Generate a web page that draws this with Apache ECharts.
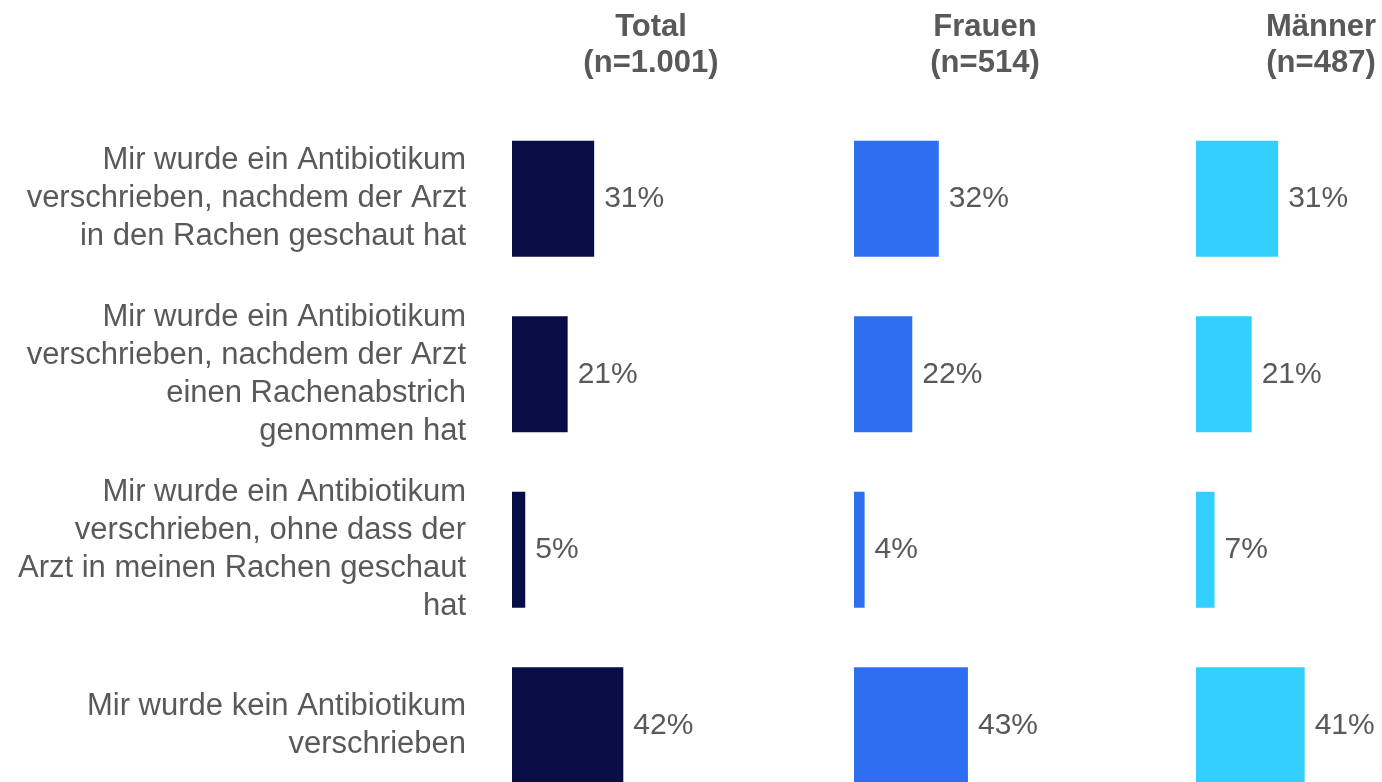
<!DOCTYPE html>
<html><head><meta charset="utf-8">
<script src="https://cdn.jsdelivr.net/npm/echarts@6/dist/echarts.min.js"></script>
<style>html,body{margin:0;padding:0;background:#fff}#c{width:1382px;height:782px}</style>
</head><body><div id="c"></div>
<script>
const categories = [
  "Mir wurde ein Antibiotikum\nverschrieben, nachdem der Arzt\nin den Rachen geschaut hat",
  "Mir wurde ein Antibiotikum\nverschrieben, nachdem der Arzt\neinen Rachenabstrich\ngenommen hat",
  "Mir wurde ein Antibiotikum\nverschrieben, ohne dass der\nArzt in meinen Rachen geschaut\nhat",
  "Mir wurde kein Antibiotikum\nverschrieben"
];
const groupTitles = ["Total\n(n=1.001)", "Frauen\n(n=514)", "Männer\n(n=487)"];
const totalValues = [31, 21, 5, 42];
const frauenValues = [32, 22, 4, 43];
const maennerValues = [31, 21, 7, 41];
const colors = ["#070d45", "#2e6ff2", "#33cfff"];

const font = "'Liberation Sans', Arial, sans-serif";
const gridLefts = [512, 854, 1196];
const titleCenters = [646, 980, 1316];
const seriesData = [totalValues, frauenValues, maennerValues];

const option = {
  animation: false,
  backgroundColor: "#fff",
  title: groupTitles.map((t, i) => ({
    text: t, left: titleCenters[i], top: 4, textAlign: "center",
    textStyle: { fontFamily: font, fontSize: 31, fontWeight: "bold", color: "#595959", lineHeight: 36 }
  })),
  grid: gridLefts.map(l => ({ left: l, top: 111, width: 132.5, height: 702, containLabel: false, outerBoundsMode: "none" })),
  xAxis: gridLefts.map((l, i) => ({
    gridIndex: i, type: "value", min: 0, max: 50, show: false
  })),
  yAxis: gridLefts.map((l, i) => ({
    gridIndex: i, type: "category", data: categories, inverse: true,
    axisLine: { show: false }, axisTick: { show: false },
    axisLabel: {
      show: i === 0, margin: 46, align: "right",
      fontFamily: font, fontSize: 31, color: "#595959", lineHeight: 38
    }
  })),
  series: seriesData.map((d, i) => ({
    type: "bar", xAxisIndex: i, yAxisIndex: i, data: d, barWidth: 116,
    itemStyle: { color: colors[i] },
    label: { show: true, position: "right", distance: 10, formatter: "{c}%",
      fontFamily: font, fontSize: 30, color: "#595959" }
  }))
};
echarts.init(document.getElementById("c"), null, { renderer: "canvas" }).setOption(option);
</script></body></html>
